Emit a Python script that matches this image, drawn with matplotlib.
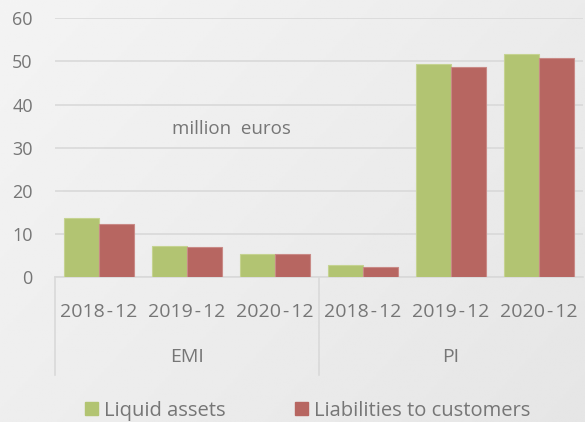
import numpy as np
import matplotlib.pyplot as plt
from matplotlib.patches import Patch

# data
groups = ['EMI', 'PI']
dates = ['2018-12', '2019-12', '2020-12']
liquid_assets = [13.7, 7.3, 5.4, 2.9, 49.3, 51.8]
liabilities = [12.3, 6.9, 5.4, 2.4, 48.8, 50.8]

green = '#b2c472'
red = '#b76661'
txt = '#767676'
grid = '#d9d9d9'

plt.rcParams['font.family'] = ['Open Sans', 'DejaVu Sans']

fig = plt.figure(figsize=(5.85, 4.22), dpi=100)

# soft gradient background
bg = fig.add_axes([0, 0, 1, 1], zorder=-10)
yy, xx = np.mgrid[0:1:200j, 0:1:200j]
shade = 0.955 - 0.055 * (0.6 * xx + 0.4 * yy)
bg.imshow(shade, cmap='gray', vmin=0, vmax=1, aspect='auto', extent=[0, 1, 0, 1])
bg.axis('off')

ax = fig.add_axes([0.094, 0.343, 0.903, 0.614])
ax.patch.set_alpha(0)

x = np.arange(len(liquid_assets))
w = 0.4
ax.bar(x - w / 2, liquid_assets, w, color=green, edgecolor='#c5d391', linewidth=0.8, zorder=3)
ax.bar(x + w / 2, liabilities, w, color=red, edgecolor='#c98a86', linewidth=0.8, zorder=3)

ax.set_ylim(0, 60)
ax.set_xlim(-0.5, len(x) - 0.5)
ax.set_yticks(range(0, 61, 10))
ax.yaxis.grid(True, color=grid, linewidth=1.2, zorder=0)
ax.tick_params(axis='y', length=0, pad=16, labelsize=13, labelcolor=txt)
ax.set_xticks([])
for s in ['top', 'right', 'left']:
    ax.spines[s].set_visible(False)
ax.spines['bottom'].set_color(grid)
ax.spines['bottom'].set_linewidth(1.2)

tr = ax.get_xaxis_transform()
for i, xi in enumerate(x):
    ax.text(xi, -0.133, dates[i % 3].replace('-', '\u200a-\u200a'), transform=tr,
            ha='center', va='center', fontsize=14, color=txt, clip_on=False)
for g, name in enumerate(groups):
    ax.text(3 * g + 1, -0.307, name, transform=tr, ha='center', va='center',
            fontsize=14, color=txt, clip_on=False)
for xs in [-0.5, 2.5]:
    ax.plot([xs, xs], [0, -0.377], transform=tr, color=grid, linewidth=1.2, clip_on=False)

ax.text(1.5, 34.3, 'million  euros', ha='center', va='center', fontsize=13.5, color=txt)

handles = [Patch(color=green, label='Liquid assets'),
           Patch(color=red, label='Liabilities to customers')]
fig.legend(handles=handles, loc='center', bbox_to_anchor=(0.526, 0.027), ncol=2,
           frameon=False, fontsize=14.5, labelcolor=txt, handlelength=0.65,
           handleheight=0.65, handletextpad=0.33, columnspacing=3.4,
           borderpad=0, borderaxespad=0)

fig.savefig('out.png', dpi=100)
